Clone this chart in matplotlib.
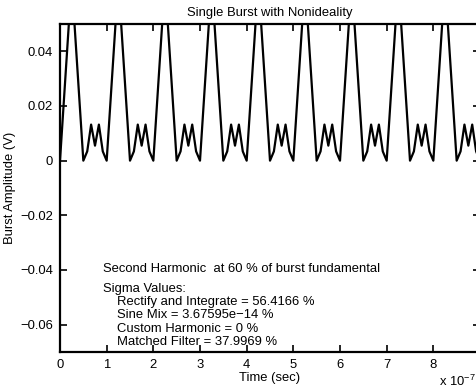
"""
Single burst with nonideality, rectified waveform.
"""
import numpy as np
import matplotlib
matplotlib.use('Agg')
import matplotlib.pyplot as plt
from matplotlib.ticker import FuncFormatter

plt.rcParams['font.family'] = ['Liberation Sans', 'DejaVu Sans']

period_samples = [0.0, 0.022, 0.044, 0.066, 0.044, 0.022,
                  0.0, 0.0034, 0.0132, 0.0055, 0.0132, 0.0034]
n_periods = 10
period = 1e-7

amp = np.append(np.tile(period_samples, n_periods), 0.0)
t = np.arange(len(amp)) * period / len(period_samples)

x_ticks = [0, 1, 2, 3, 4, 5, 6, 7, 8]
y_ticks = [-0.06, -0.04, -0.02, 0, 0.02, 0.04]

info_lines = ['Rectify and Integrate = 56.4166 %',
              'Sine Mix = 3.67595e\u221214 %',
              'Custom Harmonic = 0 %',
              'Matched Filter = 37.9969 %']

fs = 9.4

fig = plt.figure(figsize=(4.76, 3.91), dpi=100)
ax = fig.add_axes([60 / 476, 39 / 391, 420 / 476, 328 / 391])

ax.plot(t, amp, color='k', linewidth=1.6)
ax.set_xlim(0, 9e-7)
ax.set_ylim(-0.07, 0.05)

ax.set_xticks([v * 1e-7 for v in x_ticks])
ax.set_yticks(y_ticks)
ax.xaxis.set_major_formatter(FuncFormatter(lambda v, p: '%g' % round(v / 1e-7, 6)))
ax.yaxis.set_major_formatter(FuncFormatter(lambda v, p: ('%g' % round(v, 6)).replace('-', '\u2212')))
ax.tick_params(direction='in', length=5, width=1.2, top=True, right=True,
               labelsize=fs, pad=5)
for s in ax.spines.values():
    s.set_linewidth(1.6)

ax.set_title('Single Burst with Nonideality', fontsize=fs, pad=6)
ax.set_xlabel('Time (sec)', fontsize=fs, labelpad=1)
ax.set_ylabel('Burst Amplitude (V)', fontsize=fs)
ax.yaxis.set_label_coords(-44 / 420, 0.5)
fig.text(476 / 476, 1 - 381 / 391, 'x 10$^{\\mathregular{-7}}$', fontsize=fs,
         ha='right', va='center')

# annotation block
ax.text((103 - 60) / 420, (352 - 269) / 328, 'Second Harmonic  at 60 % of burst fundamental',
        transform=ax.transAxes, fontsize=fs, va='center')
ax.text((103 - 60) / 420, (352 - 289) / 328, 'Sigma Values:',
        transform=ax.transAxes, fontsize=fs, va='center')
for i, line in enumerate(info_lines):
    ax.text((117 - 60) / 420, (352 - 302 - 13.3 * i) / 328, line,
            transform=ax.transAxes, fontsize=fs, va='center')

fig.savefig('out.png', dpi=100)
